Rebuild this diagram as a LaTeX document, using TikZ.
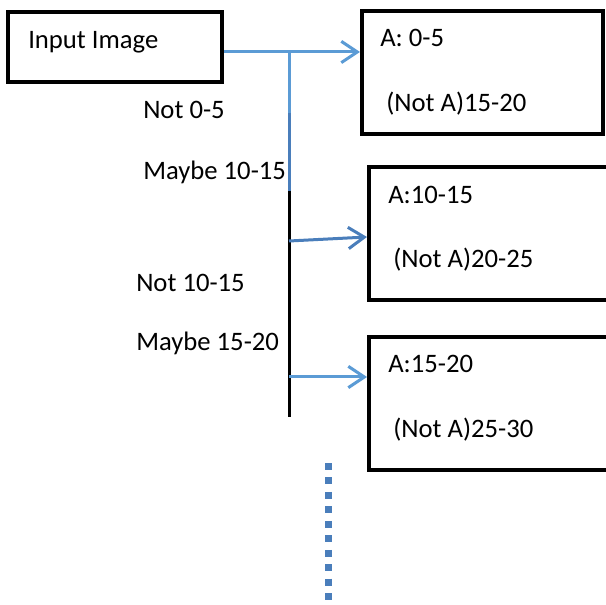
\documentclass[tikz,border=0pt]{standalone}
\usepackage{fontspec}
\setmainfont{Carlito}
\usetikzlibrary{arrows.meta,positioning}
\definecolor{lightblue}{HTML}{5B9BD5}
\definecolor{steelblue}{HTML}{4A7EBB}
\begin{document}
\begin{tikzpicture}[x=0.75pt, y=-0.75pt]

      \tikzset{box/.style={draw, line width=3pt, rectangle, inner sep=0pt},
               txt/.style={inner sep=0pt, anchor=base west, font=\fontsize{20}{24}\selectfont},
               arr/.style={line width=2.25pt, -{Straight Barb[length=12pt, width=16pt, line width=2.25pt]}}}
      \useasboundingbox (0,0) rectangle (606,605);
      \clip (0,0) rectangle (606,605);
%% Boxes
      	\node[box, minimum width=160.5pt, minimum height=52.5pt] (inp) at (115,47) {};
      	\node[box, minimum width=180.75pt, minimum height=92.25pt] (b1) at (482.5,72.5) {};
      	\node[box, minimum width=188.25pt, minimum height=99.75pt] (b2) at (494.5,233.5) {};
      	\node[box, minimum width=188.25pt, minimum height=99.75pt] (b3) at (494.5,403.5) {};
%% Texts
      	\node[txt] (tinp) at (28,49) {Input Image};
      	\node[txt] (a1) at (380,47) {A: 0-5};
      	\node[txt] (n1) at (386,112) {(Not A)15-20};
      	\node[txt] (a2) at (388,204) {A:10-15};
      	\node[txt] (n2) at (393,268) {(Not A)20-25};
      	\node[txt] (a3) at (388,373) {A:15-20};
      	\node[txt] (n3) at (393,437) {(Not A)25-30};
      	\node[txt] (l1) at (143,119) {Not 0-5};
      	\node[txt] (l2) at (143,180) {Maybe 10-15};
      	\node[txt] (l3) at (136,292) {Not 10-15};
      	\node[txt] (l4) at (136,351) {Maybe 15-20};
%% Trunk
      	\coordinate (t1) at (289,52);
      	\coordinate (t2) at (289,113);
      	\coordinate (t3) at (289,191);
      	\coordinate (t4) at (289,241);
      	\coordinate (t5) at (289,377);
      	\coordinate (t6) at (289,417);
		\draw [line width=2.25pt, lightblue] (t1) -- (t2);
		\draw [line width=2.25pt, steelblue] (t2) -- (t3);
		\draw [line width=2.25pt, black] (t3) -- (t6);
%Arrows
		\draw [arr, lightblue] (inp.east |- t1) -- (b1.west |- t1);
		\draw [arr, steelblue] (t4) -- ([yshift=3pt]b2.west |- t4);
		\draw [arr, lightblue] (t5) -- (b3.west |- t5);
%Dots
      	\coordinate (d1) at (328,463);
      	\coordinate (d2) at (328,605);
		\draw [steelblue, line width=5.25pt, dash pattern=on 5.25pt off 5.6pt] (d1) -- (d2);

	\end{tikzpicture}
\end{document}
